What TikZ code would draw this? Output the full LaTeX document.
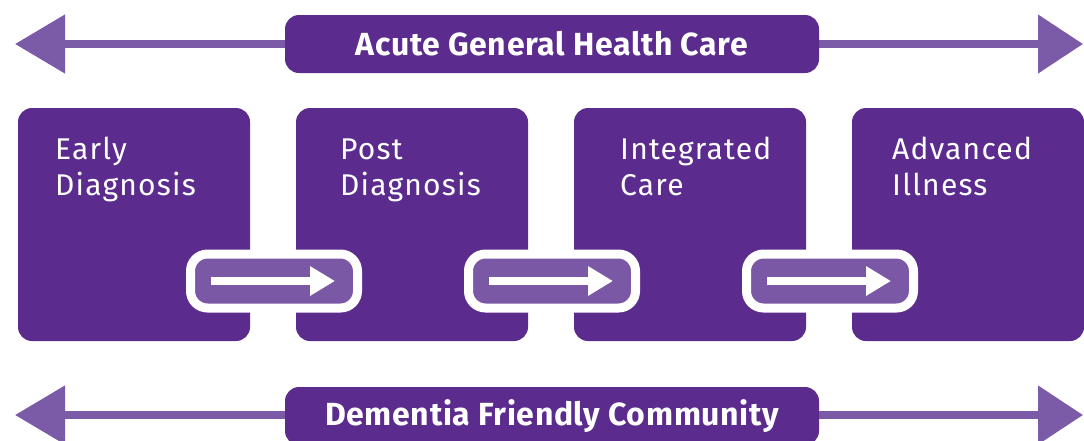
\documentclass[tikz,border=0pt]{standalone}
\usepackage{fontspec}
\setmainfont{Fira Sans}
\usetikzlibrary{arrows.meta,calc}
\definecolor{dp}{HTML}{5B2C8E}
\definecolor{lp}{HTML}{7B5BA7}
\definecolor{ip}{HTML}{7A58A5}
\tikzset{
  stagebox/.style={fill=dp, draw=none, rounded corners=14pt, minimum width=232pt, minimum height=233pt, inner sep=0pt},
  bar/.style={fill=dp, draw=none, rounded corners=14pt, minimum width=534pt, minimum height=58pt, inner sep=0pt,
    text=white, font=\bfseries\fontsize{32}{36}\selectfont\addfontfeatures{LetterSpace=2}},
  stagetext/.style={text=white, align=left, anchor=base west, inner sep=0pt,
    font=\fontsize{30}{36}\selectfont\addfontfeatures{LetterSpace=4}},
  pill/.style={fill=ip, draw=white, line width=9pt, rounded corners=17pt, minimum width=167pt, minimum height=54pt, inner sep=0pt},
  bigarrow/.style={draw=lp, line width=8pt, {Triangle[length=50pt,width=57pt]}-{Triangle[length=45pt,width=57pt]}},
  smallarrow/.style={draw=white, line width=8pt, -{Triangle[length=25pt,width=28pt]}}
}
\begin{document}
\begin{tikzpicture}[x=1pt,y=-1pt]
\useasboundingbox (0,0) rectangle (1084,440);
\clip (0,0) rectangle (1084,440);
% big arrows
\coordinate (tl) at (15,44);
\coordinate (tr) at (1083,44);
\coordinate (bl) at (15,415);
\coordinate (br) at (1083,415);
\draw[bigarrow] (tl) -- (tr);
\draw[bigarrow] (bl) -- (br);
% bars
\node[bar] (top) at (552,44) {Acute General Health Care};
\node[bar] (bottom) at (552,416) {Dementia Friendly Community};
% stages
\node[stagebox] (s1) at (134,224.5) {};
\node[stagebox] (s2) at (412,224.5) {};
\node[stagebox] (s3) at (690,224.5) {};
\node[stagebox] (s4) at (968,224.5) {};
\node[stagetext] (t1) at (55,195) {Early\\Diagnosis};
\node[stagetext] (t2) at (340,195) {Post\\Diagnosis};
\node[stagetext] (t3) at (620,195) {Integrated\\Care};
\node[stagetext] (t4) at (892,195) {Advanced\\Illness};
% connectors
\foreach \i/\x in {1/274,2/552,3/830}{
  \node[pill] (p\i) at (\x,281) {};
  \coordinate (a\i) at ($(p\i.west)+(25,0)$);
  \coordinate (b\i) at ($(p\i.east)+(-27,0)$);
  \draw[smallarrow] (a\i) -- (b\i);
}
\end{tikzpicture}
\end{document}
